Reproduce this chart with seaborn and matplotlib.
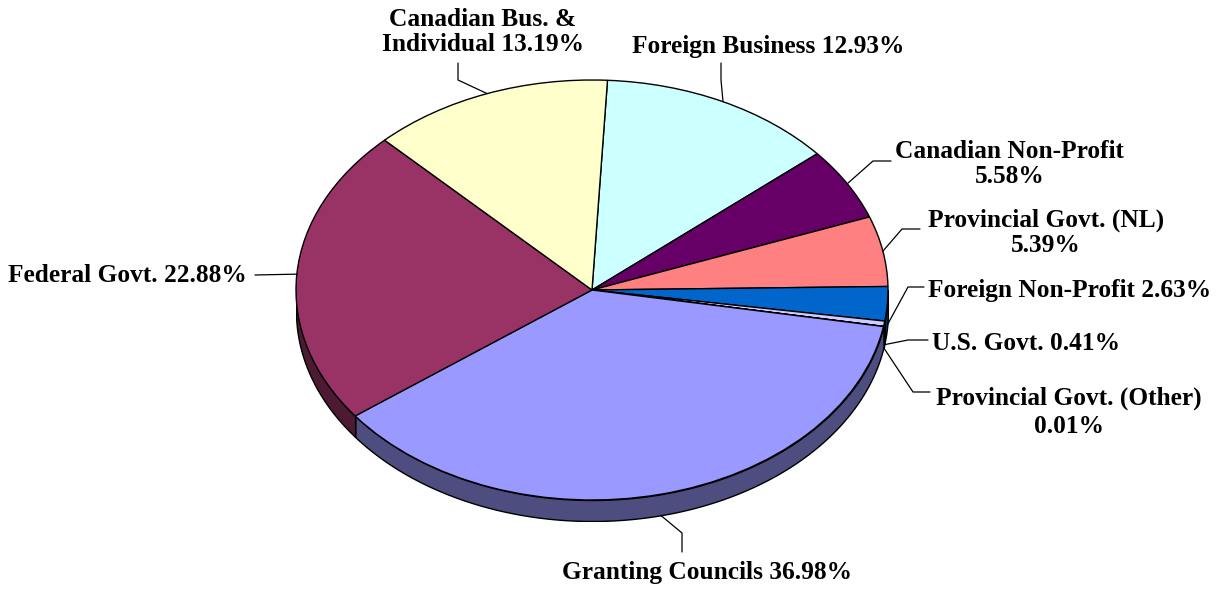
import numpy as np
import seaborn as sns
import matplotlib.colors as mcolors
from matplotlib import pyplot as plt

# funding shares, clockwise from the top of the pie
sources = ["Foreign Business", "Canadian Non-Profit", "Provincial Govt. (NL)",
           "Foreign Non-Profit", "U.S. Govt.", "Provincial Govt. (Other)",
           "Granting Councils", "Federal Govt.", "Canadian Bus. & Individual"]
shares = [12.93, 5.58, 5.39, 2.63, 0.41, 0.01, 36.98, 22.88, 13.19]
label_texts = ["Foreign Business 12.93%", "Canadian Non-Profit\n5.58%",
               "Provincial Govt. (NL)\n5.39%", "Foreign Non-Profit 2.63%",
               "U.S. Govt. 0.41%", "Provincial Govt. (Other)\n0.01%",
               "Granting Councils 36.98%", "Federal Govt. 22.88%",
               "Canadian Bus. &\nIndividual 13.19%"]
top_colors = ["#CCFFFF", "#660066", "#FF8080", "#0066CC", "#CCCCFF",
              "#800000", "#9999FF", "#993366", "#FFFFCC"]


def darken(c, f=0.5):
    r, g, b = mcolors.to_rgb(c)
    return (r * f, g * f, b * f)


side_colors = [darken(c) for c in top_colors]

sns.set_style("white")
plt.rcParams['font.family'] = ['Liberation Serif', 'DejaVu Serif']

W, H = 1232, 589
cx, cy, rx, ry, depth_px = 592, 290, 296, 210, 21
d = depth_px / ry

fig = plt.figure(figsize=(W / 100, H / 100), dpi=100)
ax = fig.add_axes([(cx - rx) / W, (H - (cy + ry + depth_px)) / H,
                   2 * rx / W, (2 * ry + depth_px) / H])

wedges, _ = ax.pie(shares, colors=top_colors, startangle=87, counterclock=False,
                   wedgeprops=dict(edgecolor="black", linewidth=1.0, zorder=3))
ax.set_aspect("auto")
ax.set_xlim(-1, 1)
ax.set_ylim(-1 - d, 1)
ax.axis("off")

# side wall of the front half
for w, col in zip(wedges, side_colors):
    t = np.radians(np.linspace(w.theta1, w.theta2, 400))
    m = np.sin(t) <= 0
    if m.sum() < 2:
        continue
    x = np.cos(t[m])
    y = np.sin(t[m])
    order = np.argsort(x)
    x, y = x[order], y[order]
    ax.fill_between(x, y, y - d, facecolor=col, edgecolor="black",
                    linewidth=1.0, zorder=1)

# labels and leader lines in pixel space
ov = fig.add_axes([0, 0, 1, 1], zorder=5)
ov.set_xlim(0, W)
ov.set_ylim(H, 0)
ov.axis("off")
ov.patch.set_alpha(0)

# elbow, end of leader, text anchor, ha, line spacing
layout = {
    "Foreign Business": ((721, 80), (721, 63), (768, 47), "center", 1.1),
    "Canadian Non-Profit": ((873, 161), (891, 161), (895, 164), "left", 1.1),
    "Provincial Govt. (NL)": ((902, 229), (920, 229), (928, 233), "left", 1.1),
    "Foreign Non-Profit": ((908, 287), (924, 287), (928, 290), "left", 1.1),
    "U.S. Govt.": ((908, 340), (928, 340), (932, 343), "left", 1.1),
    "Provincial Govt. (Other)": ((913, 392), (930, 392), (936, 412), "left", 1.3),
    "Granting Councils": ((682, 533), (682, 552), (707, 573), "center", 1.1),
    "Federal Govt.": ((255, 275), (255, 275), (247, 276), "right", 1.1),
    "Canadian Bus. & Individual": ((458, 80), (458, 63), (483, 32), "center", 1.12),
}

for w, src, txt in zip(wedges, sources, label_texts):
    mid = np.radians((w.theta1 + w.theta2) / 2)
    sx = cx + rx * np.cos(mid)
    sy = cy - ry * np.sin(mid)
    if np.sin(mid) < 0:
        sy += depth_px
    elbow, end, pos, ha, ls = layout[src]
    ov.plot([sx, elbow[0], end[0]], [sy, elbow[1], end[1]], color="black", lw=0.9)
    ov.text(pos[0], pos[1], txt, ha=ha, va="center", multialignment="center",
            fontsize=18.3, fontweight="bold", linespacing=ls, color="black")

fig.savefig("out.png", dpi=100)
